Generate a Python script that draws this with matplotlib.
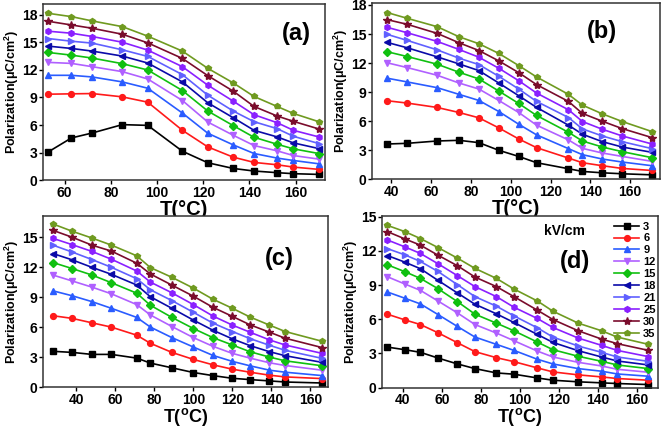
import matplotlib
matplotlib.use('Agg')
import matplotlib.pyplot as plt

plt.rcParams['font.family'] = ['Liberation Sans', 'DejaVu Sans']
plt.rcParams['font.weight'] = 'bold'
plt.rcParams['mathtext.fontset'] = 'custom'
plt.rcParams['mathtext.rm'] = 'Liberation Sans:bold'
plt.rcParams['mathtext.it'] = 'Liberation Sans:bold'
plt.rcParams['mathtext.bf'] = 'Liberation Sans:bold'

# field strengths (kV/cm)
fields = ['3', '6', '9', '12', '15', '18', '21', '25', '30', '35']
colors = ['#000000', '#ff1a1a', '#2a5cff', '#b060ff', '#10c010',
          '#0a0aa8', '#6060ff', '#8a20ff', '#7a0c2c', '#6f9a20']
markers = ['s', 'o', '^', 'v', 'D', '<', '>', 'h', '*', 'p']

# (a)
t_a = [53, 63, 72, 85, 96, 111, 122, 133, 142, 152, 159, 170]
p_a = [
    [3.07, 4.59, 5.13, 6.04, 5.96, 3.14, 1.88, 1.26, 0.98, 0.80, 0.69, 0.61],
    [9.36, 9.40, 9.43, 9.07, 8.49, 5.42, 3.61, 2.49, 1.92, 1.66, 1.41, 1.16],
    [11.42, 11.42, 11.24, 10.70, 10.01, 7.30, 5.10, 3.83, 2.89, 2.39, 2.13, 1.77],
    [12.83, 12.72, 12.36, 11.82, 11.02, 8.67, 6.32, 4.88, 3.76, 3.18, 2.67, 2.28],
    [13.91, 13.62, 13.30, 12.69, 12.00, 9.76, 7.52, 5.93, 4.66, 3.90, 3.40, 2.89],
    [14.60, 14.35, 14.06, 13.52, 12.76, 10.70, 8.42, 6.79, 5.42, 4.70, 4.05, 3.43],
    [15.43, 15.14, 14.93, 14.20, 13.48, 11.49, 9.25, 7.52, 6.36, 5.60, 4.77, 3.98],
    [16.23, 16.01, 15.65, 15.03, 14.17, 12.36, 10.34, 8.60, 7.12, 6.25, 5.42, 4.70],
    [17.31, 16.91, 16.55, 15.90, 14.96, 13.26, 11.38, 9.69, 8.02, 6.98, 6.40, 5.57],
    [18.18, 17.82, 17.35, 16.73, 15.69, 14.06, 12.18, 10.59, 9.11, 8.02, 7.26, 6.36],
]

# (b)
t_b = [38, 48, 63, 74, 84, 94, 104, 113, 129, 136, 146, 156, 171]
p_b = [
    [3.66, 3.73, 3.97, 4.04, 3.80, 3.01, 2.38, 1.73, 1.11, 0.83, 0.69, 0.59, 0.48],
    [8.12, 7.88, 7.43, 6.91, 6.36, 5.32, 4.18, 3.28, 2.21, 1.73, 1.42, 1.14, 0.93],
    [10.44, 10.06, 9.47, 8.78, 8.15, 7.01, 5.70, 4.60, 3.18, 2.56, 2.11, 1.80, 1.42],
    [12.03, 11.54, 10.75, 9.95, 9.33, 8.15, 6.91, 5.60, 4.08, 3.21, 2.73, 2.38, 1.87],
    [13.17, 12.68, 11.89, 11.06, 10.37, 9.12, 7.84, 6.60, 4.87, 3.97, 3.35, 2.87, 2.25],
    [14.13, 13.58, 12.65, 11.92, 11.23, 9.95, 8.64, 7.43, 5.60, 4.67, 3.90, 3.35, 2.80],
    [14.96, 14.34, 13.37, 12.51, 11.85, 10.64, 9.33, 8.05, 6.39, 5.22, 4.49, 3.90, 3.18],
    [15.69, 15.13, 14.24, 13.41, 12.61, 11.47, 10.19, 8.91, 7.19, 5.98, 5.18, 4.49, 3.66],
    [16.48, 16.00, 15.07, 14.10, 13.30, 12.23, 11.02, 9.78, 8.05, 6.81, 6.01, 5.25, 4.32],
    [17.21, 16.62, 15.76, 14.72, 14.00, 13.00, 11.75, 10.57, 8.78, 7.67, 6.77, 5.98, 4.94],
]

# (c)
t_c = [28, 38, 48, 58, 71, 78, 89, 100, 110, 120, 129, 139, 147, 166]
p_c = [
    [3.57, 3.46, 3.26, 3.26, 2.89, 2.39, 1.92, 1.45, 1.14, 0.87, 0.74, 0.61, 0.50, 0.40],
    [7.13, 6.86, 6.42, 5.99, 5.18, 4.37, 3.46, 2.76, 2.22, 1.78, 1.48, 1.18, 1.01, 0.84],
    [9.62, 9.12, 8.54, 7.87, 6.96, 5.99, 4.94, 4.00, 3.16, 2.56, 2.12, 1.68, 1.48, 1.14],
    [11.20, 10.60, 9.99, 9.32, 8.24, 7.20, 6.05, 4.94, 4.07, 3.36, 2.89, 2.42, 2.15, 1.68],
    [12.45, 11.84, 11.20, 10.43, 9.38, 8.17, 6.96, 5.85, 4.94, 4.20, 3.53, 2.99, 2.62, 2.12],
    [13.35, 12.71, 11.97, 11.27, 10.20, 9.02, 7.87, 6.69, 5.68, 4.81, 4.14, 3.53, 3.13, 2.46],
    [14.19, 13.49, 12.75, 11.97, 10.83, 9.72, 8.64, 7.47, 6.39, 5.55, 4.84, 4.17, 3.67, 2.86],
    [14.87, 14.23, 13.56, 12.78, 11.60, 10.49, 9.42, 8.24, 7.10, 6.19, 5.48, 4.71, 4.20, 3.36],
    [15.67, 14.97, 14.19, 13.59, 12.38, 11.30, 10.19, 9.08, 7.97, 7.06, 6.22, 5.48, 4.88, 3.94],
    [16.31, 15.57, 14.90, 14.19, 13.12, 11.94, 10.97, 9.89, 8.78, 7.87, 7.00, 6.19, 5.55, 4.57],
]

# (d)
t_d = [32, 41, 49, 58, 68, 77, 88, 97, 109, 117, 130, 142, 150, 166]
p_d = [
    [3.55, 3.32, 3.09, 2.59, 2.07, 1.66, 1.28, 1.17, 0.84, 0.64, 0.50, 0.41, 0.35, 0.26],
    [6.44, 5.94, 5.53, 4.81, 3.93, 3.15, 2.62, 2.27, 1.72, 1.37, 1.11, 0.93, 0.79, 0.64],
    [8.39, 7.84, 7.34, 6.41, 5.36, 4.43, 3.79, 3.26, 2.48, 2.07, 1.66, 1.43, 1.19, 0.99],
    [9.73, 9.09, 8.53, 7.60, 6.55, 5.53, 4.78, 4.11, 3.20, 2.68, 2.21, 1.89, 1.60, 1.34],
    [10.78, 10.17, 9.58, 8.68, 7.54, 6.44, 5.65, 4.98, 3.99, 3.32, 2.74, 2.30, 1.98, 1.66],
    [11.59, 11.01, 10.43, 9.41, 8.30, 7.31, 6.47, 5.71, 4.66, 3.96, 3.23, 2.68, 2.33, 1.98],
    [12.20, 11.65, 11.07, 10.19, 9.03, 7.98, 7.14, 6.29, 5.24, 4.43, 3.64, 3.09, 2.68, 2.30],
    [12.96, 12.35, 11.77, 10.87, 9.82, 8.86, 7.98, 7.05, 6.06, 5.27, 4.34, 3.70, 3.26, 2.71],
    [13.69, 13.05, 12.50, 11.62, 10.69, 9.70, 8.86, 7.98, 6.79, 5.97, 4.98, 4.25, 3.85, 3.26],
    [14.24, 13.69, 13.08, 12.29, 11.36, 10.46, 9.58, 8.65, 7.60, 6.70, 5.65, 4.98, 4.43, 3.79],
]

ylab = 'Polarization(μC/cm$^{2}$)'


def draw(ax, t, p, xlim, ylim, xticks, yticks, tag, tagpos):
    for i in range(len(fields)):
        ms = 6 if markers[i] == '*' else 4.2
        ax.plot(t, p[i], color=colors[i], marker=markers[i], ms=ms,
                lw=1.2, label=fields[i])
    ax.set_xlim(*xlim)
    ax.set_ylim(*ylim)
    ax.set_xticks(xticks)
    ax.set_yticks(yticks)
    ax.tick_params(labelsize=10, length=3, width=1, direction='out', pad=1)
    for s in ax.spines.values():
        s.set_linewidth(1.1)
        s.set_color('#333333')
    ax.set_ylabel(ylab, fontsize=9, fontweight='bold', labelpad=1)
    ax.text(tagpos[0], tagpos[1], tag, transform=ax.transAxes,
            fontsize=17, fontweight='bold', ha='center', va='center')


fig = plt.figure(figsize=(6.61, 4.29), dpi=100)
ax_a = fig.add_axes([0.0651, 0.5804, 0.4266, 0.4103])
ax_b = fig.add_axes([0.5628, 0.5816, 0.4357, 0.4114])
ax_c = fig.add_axes([0.0651, 0.0979, 0.4312, 0.3986])
ax_d = fig.add_axes([0.5779, 0.0967, 0.4175, 0.4009])

draw(ax_a, t_a, p_a, (50.7, 172.7), (0, 19.2), range(60, 161, 20),
     range(0, 19, 3), '(a)', (0.90, 0.83))
draw(ax_b, t_b, p_b, (30.3, 175), (0, 18.2), range(40, 161, 20),
     range(0, 19, 3), '(b)', (0.80, 0.84))
draw(ax_c, t_c, p_c, (23, 169), (0, 17.1), range(40, 161, 20),
     range(0, 16, 3), '(c)', (0.83, 0.75))
draw(ax_d, t_d, p_d, (29.3, 170.9), (0, 15.1), range(40, 161, 20),
     range(0, 16, 3), '(d)', (0.70, 0.73))

ax_a.set_xlabel('T(°C)', fontsize=14.5, fontweight='bold', labelpad=0)
ax_b.set_xlabel('T(°C)', fontsize=14.5, fontweight='bold', labelpad=0)
# bottom row: anchor the label to the figure bottom so it stays inside
for ax in (ax_c, ax_d):
    bb = ax.get_position()
    fig.text((bb.x0 + bb.x1) / 2, 0.002, 'T($^{o}$C)', fontsize=13,
             fontweight='bold', ha='center', va='bottom')

ax_d.text(0.66, 0.91, 'kV/cm', transform=ax_d.transAxes, fontsize=10,
          fontweight='bold', ha='center', va='center')
leg = ax_d.legend(loc='upper right', bbox_to_anchor=(1.02, 1.01),
                  frameon=False, fontsize=8, handlelength=2.2,
                  handletextpad=0.4, labelspacing=0.17, borderaxespad=0.3)

fig.savefig('out.png', dpi=100)
